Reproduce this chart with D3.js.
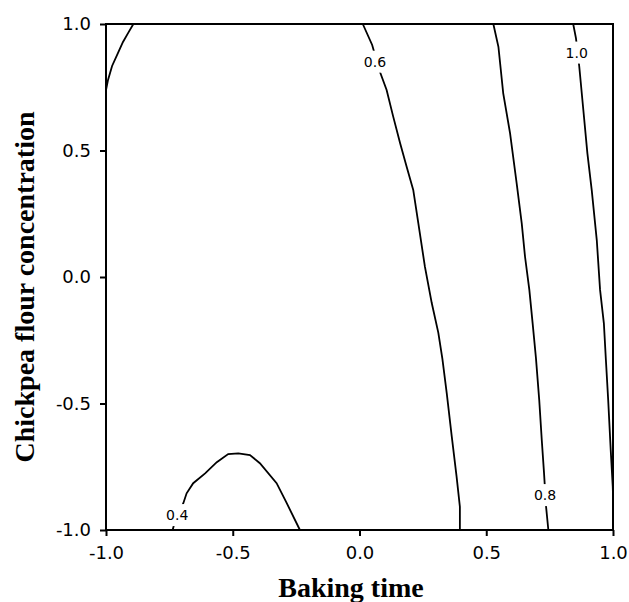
<!DOCTYPE html>
<html>
<head>
<meta charset="utf-8">
<script src="https://cdn.jsdelivr.net/npm/d3@7"></script>
<style>
  html, body { margin: 0; padding: 0; background: #fff; }
  svg { display: block; }
</style>
</head>
<body>
<svg id="chart" width="629" height="602"></svg>
<script>
// ---- data (in axis units) ----
const xTicks = [-1.0, -0.5, 0.0, 0.5, 1.0];
const yTicks = [-1.0, -0.5, 0.0, 0.5, 1.0];
const xTickLabels = ["-1.0", "-0.5", "0.0", "0.5", "1.0"];
const yTickLabels = ["-1.0", "-0.5", "0.0", "0.5", "1.0"];
const xTitle = "Baking time";
const yTitle = "Chickpea flour concentration";

// contour lines: [x, y] pairs
const contourTopLeft = [[-1.0,0.739],[-0.992,0.779],[-0.976,0.834],[-0.953,0.885],[-0.933,0.929],[-0.913,0.964],[-0.892,1.0]];
const contour04 = [[-0.737,-1.0],[-0.732,-0.980],[-0.695,-0.894],[-0.682,-0.855],[-0.656,-0.815],[-0.609,-0.776],[-0.563,-0.732],[-0.518,-0.700],[-0.478,-0.697],[-0.432,-0.704],[-0.393,-0.736],[-0.327,-0.815],[-0.287,-0.894],[-0.235,-1.0]];
const contour06 = [[0.013,1.0],[0.050,0.917],[0.078,0.818],[0.107,0.739],[0.133,0.634],[0.160,0.530],[0.186,0.436],[0.212,0.344],[0.232,0.213],[0.258,0.041],[0.285,-0.103],[0.311,-0.221],[0.327,-0.324],[0.344,-0.458],[0.364,-0.631],[0.383,-0.789],[0.396,-0.908],[0.396,-1.0]];
const contour08 = [[0.528,1.0],[0.548,0.910],[0.567,0.726],[0.594,0.568],[0.620,0.370],[0.640,0.212],[0.653,0.080],[0.670,-0.051],[0.683,-0.183],[0.696,-0.320],[0.709,-0.486],[0.719,-0.644],[0.728,-0.776],[0.736,-0.908],[0.745,-1.0]];
const contour10 = [[0.843,1.0],[0.854,0.943],[0.867,0.831],[0.883,0.660],[0.899,0.489],[0.916,0.344],[0.936,0.146],[0.949,-0.051],[0.964,-0.183],[0.972,-0.328],[0.981,-0.486],[0.991,-0.684],[0.999,-0.829],[1.0,-0.86]];
const contourLines = [contourTopLeft, contour04, contour06, contour08, contour10];

const contourLabelText = ["0.4", "0.6", "0.8", "1.0"];
const contourLabelX = [-0.719, 0.061, 0.732, 0.857];
const contourLabelY = [-0.941, 0.851, -0.862, 0.887];

// ---- layout ----
const svg = d3.select("#chart");
const plot = { left: 106, top: 24, right: 613, bottom: 530 };

const x = d3.scaleLinear().domain([-1, 1]).range([plot.left, plot.right]);
const y = d3.scaleLinear().domain([-1, 1]).range([plot.bottom, plot.top]);

const line = d3.line().x(d => x(d[0])).y(d => y(d[1]));

const gLines = svg.append("g");
gLines.selectAll("path")
  .data(contourLines)
  .join("path")
  .attr("d", line)
  .attr("fill", "none")
  .attr("stroke", "#000")
  .attr("stroke-width", 1.8);

// contour labels with white gap behind
const labels = contourLabelText.map((t, i) => ({ t, x: contourLabelX[i], y: contourLabelY[i] }));
const gLab = svg.append("g");
gLab.selectAll("rect")
  .data(labels)
  .join("rect")
  .attr("x", d => x(d.x) - 13)
  .attr("y", d => y(d.y) - 11)
  .attr("width", 26)
  .attr("height", 22)
  .attr("fill", "#fff");
gLab.selectAll("text")
  .data(labels)
  .join("text")
  .attr("x", d => x(d.x))
  .attr("y", d => y(d.y))
  .attr("text-anchor", "middle")
  .attr("dy", "0.36em")
  .attr("font-family", "DejaVu Sans, Verdana, sans-serif")
  .attr("font-size", 14)
  .attr("fill", "#000")
  .text(d => d.t);

// axes
const xAxis = d3.axisBottom(x)
  .tickValues(xTicks)
  .tickFormat((d, i) => xTickLabels[i])
  .tickSizeInner(6).tickSizeOuter(0).tickPadding(10);
const yAxis = d3.axisLeft(y)
  .tickValues(yTicks)
  .tickFormat((d, i) => yTickLabels[i])
  .tickSizeInner(6).tickSizeOuter(0).tickPadding(9);

const gx = svg.append("g").attr("transform", `translate(0,${plot.bottom})`).call(xAxis);
const gy = svg.append("g").attr("transform", `translate(${plot.left},0)`).call(yAxis);
[gx, gy].forEach(g => {
  g.select(".domain").remove();
  g.selectAll(".tick line").attr("stroke", "#000").attr("stroke-width", 2);
  g.selectAll(".tick text")
    .attr("font-family", "DejaVu Sans, Verdana, sans-serif")
    .attr("font-size", 18)
    .attr("fill", "#000");
});

// frame
svg.append("rect")
  .attr("x", plot.left).attr("y", plot.top)
  .attr("width", plot.right - plot.left).attr("height", plot.bottom - plot.top)
  .attr("fill", "none").attr("stroke", "#000").attr("stroke-width", 2);

// titles
svg.append("text")
  .attr("x", 351)
  .attr("y", 597)
  .attr("text-anchor", "middle")
  .attr("font-family", "Liberation Serif, Times New Roman, serif")
  .attr("font-weight", "bold")
  .attr("font-size", 28)
  .attr("fill", "#000")
  .text(xTitle);

svg.append("text")
  .attr("transform", `translate(34,287) rotate(-90)`)
  .attr("text-anchor", "middle")
  .attr("font-family", "Liberation Serif, Times New Roman, serif")
  .attr("font-weight", "bold")
  .attr("font-size", 28)
  .attr("fill", "#000")
  .text(yTitle);
</script>
</body>
</html>
